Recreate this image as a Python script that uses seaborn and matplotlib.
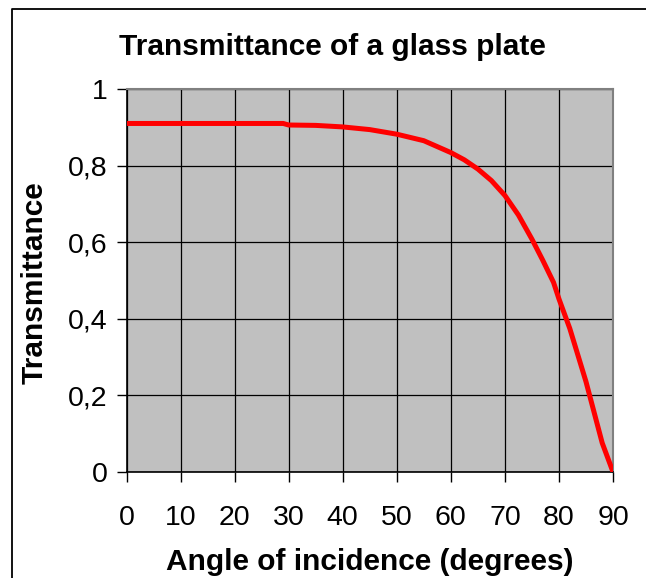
import matplotlib
matplotlib.use("Agg")
import matplotlib.pyplot as plt
from matplotlib.lines import Line2D
import pandas as pd
import seaborn as sns

# Transmittance of a glass plate versus angle of incidence
angle_deg = [0, 5, 10, 15, 20, 25, 29, 30, 35, 40, 45, 50, 55, 60, 62.5, 65,
             67.5, 70, 72.5, 75, 77, 79, 80, 82, 85, 88, 90]
transmittance = [0.910, 0.910, 0.910, 0.910, 0.910, 0.910, 0.910, 0.906, 0.905,
                 0.901, 0.894, 0.882, 0.865, 0.834, 0.815, 0.791, 0.761, 0.722,
                 0.671, 0.608, 0.553, 0.495, 0.452, 0.375, 0.236, 0.076, 0.0]

x_ticks = [0, 10, 20, 30, 40, 50, 60, 70, 80, 90]
y_ticks = [0, 0.2, 0.4, 0.6, 0.8, 1.0]
y_tick_labels = ["0", "0,2", "0,4", "0,6", "0,8", "1"]

df = pd.DataFrame({"angle": angle_deg, "T": transmittance})

sns.set_style("ticks")
plt.rcParams["font.family"] = ["Liberation Sans", "DejaVu Sans"]
plt.rcParams["text.color"] = "black"
plt.rcParams["xtick.labelcolor"] = "black"
plt.rcParams["ytick.labelcolor"] = "black"

W, H = 646, 578
fig = plt.figure(figsize=(W / 100, H / 100), dpi=100)
fig.patch.set_facecolor("white")

left, right, top, bottom = 126.5, 613, 89, 472
ax = fig.add_axes([left / W, 1 - bottom / H, (right - left) / W, (bottom - top) / H])
ax.set_facecolor("#C0C0C0")

sns.lineplot(data=df, x="angle", y="T", ax=ax, color="#FF0000", linewidth=3.6,
             zorder=3)

ax.set_xlim(0, 90)
ax.set_ylim(0, 1)
ax.set_xticks(x_ticks)
ax.set_xticklabels([str(t) for t in x_ticks])
ax.set_yticks(y_ticks)
ax.set_yticklabels(y_tick_labels)

ax.grid(True, color="black", linewidth=0.9, zorder=1)
ax.set_axisbelow(True)

for s in ("left", "bottom"):
    ax.spines[s].set_color("black")
    ax.spines[s].set_linewidth(1.2)
for s in ("top", "right"):
    ax.spines[s].set_visible(True)
    ax.spines[s].set_color("#808080")
    ax.spines[s].set_linewidth(1.5)

ax.tick_params(axis="both", direction="out", length=7.5, width=1, color="black",
               labelsize=20.5, labelcolor="black")
ax.tick_params(axis="x", pad=16)
ax.tick_params(axis="y", pad=6)

ax.set_xlabel("")
ax.set_ylabel("")
fig.text(370 / W, 1 - 570 / H, "Angle of incidence (degrees)", ha="center",
         va="baseline", fontsize=21.5, fontweight="bold", color="black")
fig.text(35 / W, 1 - 283 / H, "Transmittance", ha="center", va="center",
         rotation=90, fontsize=21.5, fontweight="bold", color="black")
fig.text(332.5 / W, 1 - 55 / H, "Transmittance of a glass plate", ha="center",
         va="baseline", fontsize=21.5, fontweight="bold", color="black")

# Chart-area frame
fig.add_artist(Line2D([12 / W, 12 / W, 1.0], [0.0, 1 - 9 / H, 1 - 9 / H],
                      transform=fig.transFigure, color="black", linewidth=1.3))

fig.savefig("out.png", dpi=100)
